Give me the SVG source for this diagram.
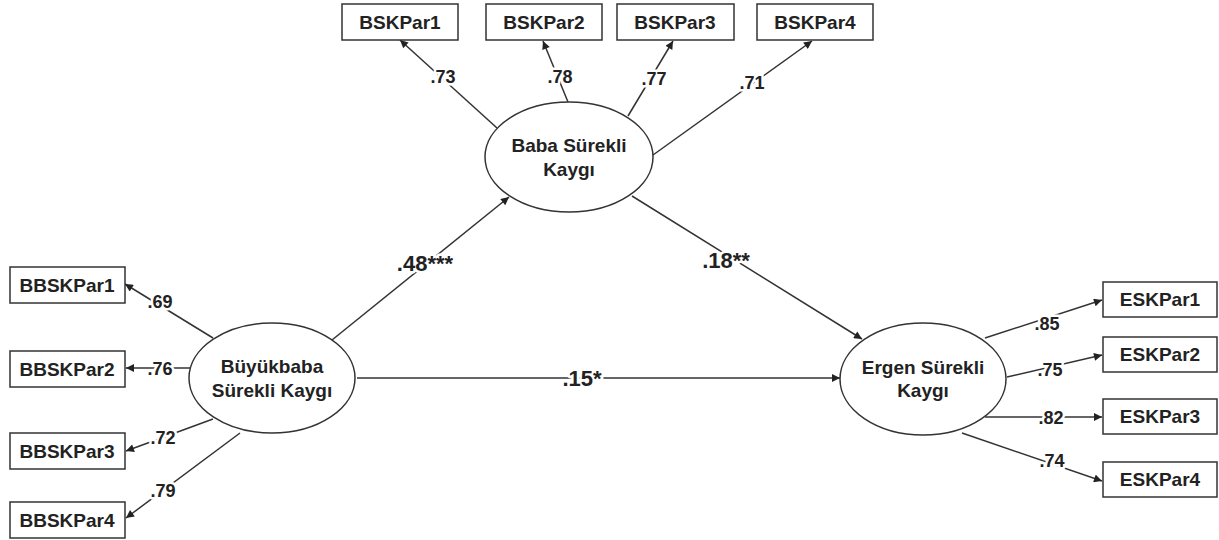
<svg xmlns="http://www.w3.org/2000/svg" width="1219" height="540" viewBox="0 0 1219 540">
<style>
.box{fill:#fff;stroke:#333;stroke-width:1.5}
.ell{fill:#fff;stroke:#333;stroke-width:1.5}
.t{font-family:"Liberation Sans",Arial,sans-serif;font-weight:bold;font-size:19px;fill:#222;text-anchor:middle}
.c{stroke:#333;stroke-width:1.5;fill:none;marker-end:url(#ah)}
.lbl{font-family:"Liberation Sans",Arial,sans-serif;font-weight:bold;font-size:18px;fill:#222;text-anchor:middle;stroke:#fff;stroke-width:5px;paint-order:stroke;stroke-linejoin:round}
.big{font-size:22px}
</style>
<defs>
<marker id="ah" viewBox="0 0 10 10" refX="10" refY="5" markerWidth="10" markerHeight="8" markerUnits="userSpaceOnUse" orient="auto">
<path d="M0,0 L10,5 L0,10 z" fill="#222"/>
</marker>
</defs>
<rect width="1219" height="540" fill="#fff"/>
<g id="connectors">
<line class="c" x1="497" y1="128" x2="400" y2="40"/>
<line class="c" x1="568" y1="102" x2="543" y2="41"/>
<line class="c" x1="628" y1="116" x2="673" y2="41"/>
<line class="c" x1="653" y1="155" x2="812" y2="41"/>
<line class="c" x1="213" y1="338" x2="125" y2="284"/>
<line class="c" x1="190" y1="368" x2="126" y2="368"/>
<line class="c" x1="213" y1="419" x2="126" y2="451"/>
<line class="c" x1="240" y1="433" x2="126" y2="518"/>
<line class="c" x1="985" y1="338" x2="1102" y2="300"/>
<line class="c" x1="1007" y1="377" x2="1102" y2="355"/>
<line class="c" x1="985" y1="417" x2="1102" y2="417"/>
<line class="c" x1="962" y1="433" x2="1102" y2="481"/>
<line class="c" x1="332" y1="340" x2="509" y2="197"/>
<line class="c" x1="632" y1="196" x2="862" y2="339"/>
<line class="c" x1="357" y1="378" x2="840" y2="378"/>
<text class="lbl" x="443" y="83">.73</text>
<text class="lbl" x="560" y="83">.78</text>
<text class="lbl" x="654" y="85">.77</text>
<text class="lbl" x="752" y="89">.71</text>
<text class="lbl" x="160" y="308">.69</text>
<text class="lbl" x="160" y="375">.76</text>
<text class="lbl" x="163" y="444">.72</text>
<text class="lbl" x="163" y="497">.79</text>
<text class="lbl" x="1047" y="330">.85</text>
<text class="lbl" x="1050" y="376">.75</text>
<text class="lbl" x="1051" y="424">.82</text>
<text class="lbl" x="1052" y="467">.74</text>
<text class="lbl big" x="425" y="271">.48***</text>
<text class="lbl big" x="726" y="268">.18**</text>
<text class="lbl big" x="582" y="386">.15*</text>
</g>
<g id="BSKPar1"><rect class="box" x="342" y="4" width="116" height="36"/><text class="t" x="400" y="29">BSKPar1</text></g>
<g id="BSKPar2"><rect class="box" x="486" y="4" width="116" height="36"/><text class="t" x="544" y="29">BSKPar2</text></g>
<g id="BSKPar3"><rect class="box" x="617" y="4" width="117" height="36"/><text class="t" x="675" y="29">BSKPar3</text></g>
<g id="BSKPar4"><rect class="box" x="757" y="4" width="116" height="36"/><text class="t" x="815" y="29">BSKPar4</text></g>
<g id="BBSKPar1"><rect class="box" x="10" y="267" width="115" height="36"/><text class="t" x="67" y="292">BBSKPar1</text></g>
<g id="BBSKPar2"><rect class="box" x="10" y="351" width="115" height="36"/><text class="t" x="67" y="376">BBSKPar2</text></g>
<g id="BBSKPar3"><rect class="box" x="10" y="433" width="115" height="36"/><text class="t" x="67" y="458">BBSKPar3</text></g>
<g id="BBSKPar4"><rect class="box" x="10" y="502" width="115" height="36"/><text class="t" x="67" y="527">BBSKPar4</text></g>
<g id="ESKPar1"><rect class="box" x="1103" y="282" width="114" height="35"/><text class="t" x="1160" y="306">ESKPar1</text></g>
<g id="ESKPar2"><rect class="box" x="1103" y="337" width="114" height="35"/><text class="t" x="1160" y="361">ESKPar2</text></g>
<g id="ESKPar3"><rect class="box" x="1103" y="399" width="114" height="35"/><text class="t" x="1160" y="423">ESKPar3</text></g>
<g id="ESKPar4"><rect class="box" x="1103" y="462" width="114" height="35"/><text class="t" x="1160" y="486">ESKPar4</text></g>
<g id="Baba"><ellipse class="ell" cx="569" cy="157" rx="84" ry="55"/><text class="t" x="569" y="152">Baba Sürekli</text><text class="t" x="569" y="176">Kaygı</text></g>
<g id="Buyukbaba"><ellipse class="ell" cx="272" cy="378" rx="83" ry="55"/><text class="t" x="272" y="373">Büyükbaba</text><text class="t" x="272" y="397">Sürekli Kaygı</text></g>
<g id="Ergen"><ellipse class="ell" cx="923" cy="379" rx="83" ry="56"/><text class="t" x="923" y="374">Ergen Sürekli</text><text class="t" x="923" y="397">Kaygı</text></g>
</svg>
